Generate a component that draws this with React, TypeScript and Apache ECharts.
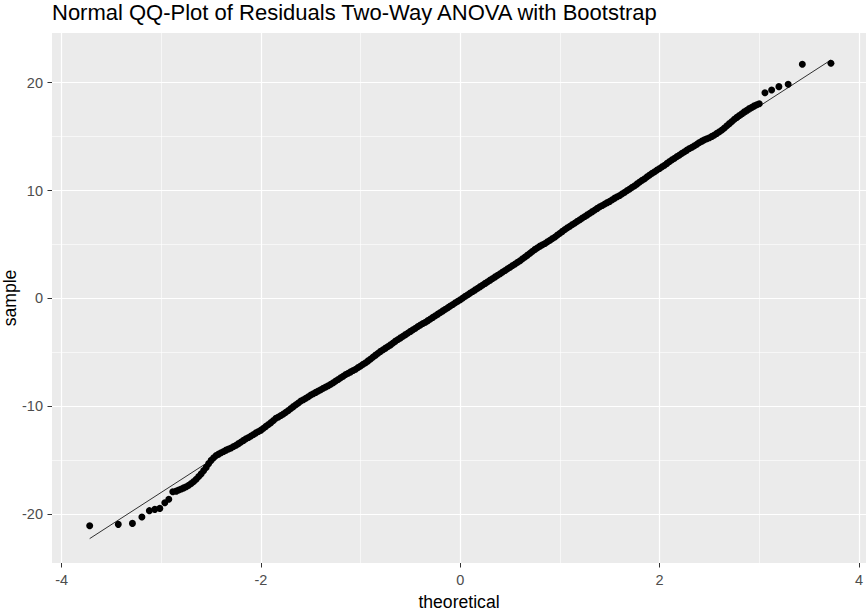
import React, { useEffect, useRef } from "react";
import * as echarts from "echarts";

const chartTitle = "Normal QQ-Plot of Residuals Two-Way ANOVA with Bootstrap";
const xAxisTitle = "theoretical";
const yAxisTitle = "sample";

const xMajorTicks = [-4, -2, 0, 2, 4];
const xMinorTicks = [-3, -1, 1, 3];
const yMajorTicks = [-20, -10, 0, 10, 20];
const yMinorTicks = [-15, -5, 5, 15];
const xRange = [-4.097, 4.071];
const yRange = [-24.51, 24.6];

const lowerTailX = [-3.719, -3.432, -3.29, -3.195, -3.12, -3.065, -3.015, -2.965, -2.925, -2.885];
const lowerTailY = [-21.06, -20.93, -20.84, -20.25, -19.66, -19.54, -19.45, -18.92, -18.61, -17.9];

const bodyX = [
  -2.85, -2.825, -2.8, -2.775, -2.75, -2.725, -2.7, -2.675, -2.65, -2.625,
  -2.6, -2.575, -2.55, -2.525, -2.5, -2.475, -2.45, -2.425, -2.4, -2.375,
  -2.35, -2.325, -2.3, -2.275, -2.25, -2.225, -2.2, -2.175, -2.15, -2.125,
  -2.1, -2.075, -2.05, -2.025, -2.0, -1.975, -1.95, -1.925, -1.9, -1.875,
  -1.85, -1.825, -1.8, -1.775, -1.75, -1.725, -1.7, -1.675, -1.65, -1.625,
  -1.6, -1.575, -1.55, -1.525, -1.5, -1.475, -1.45, -1.425, -1.4, -1.375,
  -1.35, -1.325, -1.3, -1.275, -1.25, -1.225, -1.2, -1.175, -1.15, -1.125,
  -1.1, -1.075, -1.05, -1.025, -1.0, -0.975, -0.95, -0.925, -0.9, -0.875,
  -0.85, -0.825, -0.8, -0.775, -0.75, -0.725, -0.7, -0.675, -0.65, -0.625,
  -0.6, -0.575, -0.55, -0.525, -0.5, -0.475, -0.45, -0.425, -0.4, -0.375,
  -0.35, -0.325, -0.3, -0.275, -0.25, -0.225, -0.2, -0.175, -0.15, -0.125,
  -0.1, -0.075, -0.05, -0.025, 0.0, 0.025, 0.05, 0.075, 0.1, 0.125,
  0.15, 0.175, 0.2, 0.225, 0.25, 0.275, 0.3, 0.325, 0.35, 0.375,
  0.4, 0.425, 0.45, 0.475, 0.5, 0.525, 0.55, 0.575, 0.6, 0.625,
  0.65, 0.675, 0.7, 0.725, 0.75, 0.775, 0.8, 0.825, 0.85, 0.875,
  0.9, 0.925, 0.95, 0.975, 1.0, 1.025, 1.05, 1.075, 1.1, 1.125,
  1.15, 1.175, 1.2, 1.225, 1.25, 1.275, 1.3, 1.325, 1.35, 1.375,
  1.4, 1.425, 1.45, 1.475, 1.5, 1.525, 1.55, 1.575, 1.6, 1.625,
  1.65, 1.675, 1.7, 1.725, 1.75, 1.775, 1.8, 1.825, 1.85, 1.875,
  1.9, 1.925, 1.95, 1.975, 2.0, 2.025, 2.05, 2.075, 2.1, 2.125,
  2.15, 2.175, 2.2, 2.225, 2.25, 2.275, 2.3, 2.325, 2.35, 2.375,
  2.4, 2.425, 2.45, 2.475, 2.5, 2.525, 2.55, 2.575, 2.6, 2.625,
  2.65, 2.675, 2.7, 2.725, 2.75, 2.775, 2.8, 2.825, 2.85, 2.875,
  2.9, 2.925, 2.95, 2.975, 3.0,
];
const bodyY = [
  -17.85, -17.75, -17.65, -17.55, -17.45, -17.3, -17.15, -16.95, -16.75, -16.5,
  -16.25, -15.95, -15.65, -15.3, -15.0, -14.75, -14.55, -14.42, -14.3, -14.18,
  -14.05, -13.95, -13.85, -13.72, -13.6, -13.45, -13.3, -13.15, -13.0, -12.88,
  -12.75, -12.6, -12.45, -12.32, -12.2, -12.02, -11.85, -11.68, -11.5, -11.3,
  -11.1, -10.98, -10.85, -10.7, -10.55, -10.38, -10.2, -10.02, -9.85, -9.68,
  -9.5, -9.38, -9.25, -9.1, -8.95, -8.82, -8.7, -8.58, -8.45, -8.32,
  -8.2, -8.08, -7.95, -7.8, -7.65, -7.5, -7.35, -7.2, -7.05, -6.92,
  -6.8, -6.68, -6.55, -6.4, -6.25, -6.1, -5.95, -5.78, -5.6, -5.42,
  -5.25, -5.08, -4.9, -4.75, -4.6, -4.45, -4.3, -4.12, -3.95, -3.8,
  -3.65, -3.5, -3.35, -3.2, -3.05, -2.9, -2.75, -2.6, -2.45, -2.32,
  -2.2, -2.05, -1.9, -1.75, -1.6, -1.45, -1.3, -1.15, -1.0, -0.85,
  -0.7, -0.55, -0.4, -0.26, -0.12, 0.04, 0.2, 0.35, 0.5, 0.65,
  0.8, 0.95, 1.1, 1.25, 1.4, 1.55, 1.7, 1.85, 2.0, 2.15,
  2.3, 2.45, 2.6, 2.75, 2.9, 3.05, 3.2, 3.35, 3.5, 3.68,
  3.85, 4.02, 4.2, 4.38, 4.55, 4.7, 4.85, 4.98, 5.1, 5.25,
  5.4, 5.55, 5.7, 5.88, 6.05, 6.22, 6.4, 6.55, 6.7, 6.85,
  7.0, 7.15, 7.3, 7.45, 7.6, 7.75, 7.9, 8.05, 8.2, 8.35,
  8.5, 8.62, 8.75, 8.88, 9.0, 9.15, 9.3, 9.42, 9.55, 9.7,
  9.85, 10.0, 10.15, 10.3, 10.45, 10.62, 10.8, 10.95, 11.1, 11.28,
  11.45, 11.6, 11.75, 11.9, 12.05, 12.2, 12.35, 12.52, 12.7, 12.85,
  13.0, 13.15, 13.3, 13.45, 13.6, 13.75, 13.9, 14.02, 14.15, 14.3,
  14.45, 14.58, 14.7, 14.8, 14.9, 15.02, 15.15, 15.3, 15.45, 15.62,
  15.8, 16.0, 16.2, 16.4, 16.6, 16.78, 16.95, 17.12, 17.3, 17.45,
  17.6, 17.72, 17.85, 17.95, 18.05,
];

const upperTailX = [3.057, 3.124, 3.197, 3.29, 3.432, 3.719];
const upperTailY = [19.07, 19.32, 19.63, 19.85, 21.7, 21.8];

const qqLineX = [-3.719, 3.719];
const qqLineY = [-22.25, 22.1];

const FONT = "'Liberation Sans', Arial, sans-serif";

export default function App() {
  const ref = useRef<HTMLDivElement>(null);

  useEffect(() => {
    if (!ref.current) return;
    const chart = echarts.init(ref.current, undefined, { renderer: "svg" });
    const tickLabel = { color: "#4D4D4D", fontSize: 14.5, fontFamily: FONT };
    const theoretical = [...lowerTailX, ...bodyX, ...upperTailX];
    const sample = [...lowerTailY, ...bodyY, ...upperTailY];
    const option = {
      animation: false,
      backgroundColor: "#FFFFFF",
      title: {
        text: chartTitle,
        left: 52,
        top: 1,
        padding: 0,
        textStyle: { fontSize: 22, fontWeight: "normal", color: "#000000", fontFamily: FONT },
      },
      grid: {
        left: 52,
        top: 33,
        right: 0,
        bottom: 50,
        show: true,
        backgroundColor: "#EBEBEB",
        borderWidth: 0,
        containLabel: false,
        outerBoundsMode: "none",
      },
      xAxis: [
        {
          type: "value",
          min: xRange[0],
          max: xRange[1],
          position: "bottom",
          axisLine: { show: false, onZero: false },
          axisTick: { show: true, customValues: xMajorTicks, length: 4.5, lineStyle: { color: "#333333", width: 1 } },
          axisLabel: { customValues: xMajorTicks, margin: 9, ...tickLabel },
          splitLine: { show: true, lineStyle: { color: "#FFFFFF", width: 1.2 } },
          name: xAxisTitle,
          nameLocation: "middle",
          nameGap: 30,
          nameMoveOverlap: false,
          nameTextStyle: { color: "#000000", fontSize: 17.6, fontFamily: FONT },
        },
        {
          type: "value",
          min: xRange[0],
          max: xRange[1],
          position: "bottom",
          axisLine: { show: false, onZero: false },
          axisTick: { show: false, customValues: xMinorTicks },
          axisLabel: { show: false, customValues: xMinorTicks },
          splitLine: { show: true, lineStyle: { color: "#FFFFFF", width: 0.6 } },
        },
      ],
      yAxis: [
        {
          type: "value",
          min: yRange[0],
          max: yRange[1],
          position: "left",
          axisLine: { show: false, onZero: false },
          axisTick: { show: true, customValues: yMajorTicks, length: 4.5, lineStyle: { color: "#333333", width: 1 } },
          axisLabel: { customValues: yMajorTicks, margin: 9, ...tickLabel },
          splitLine: { show: true, lineStyle: { color: "#FFFFFF", width: 1.2 } },
          name: yAxisTitle,
          nameLocation: "middle",
          nameGap: 33,
          nameRotate: 90,
          nameMoveOverlap: false,
          nameTextStyle: { color: "#000000", fontSize: 17.6, fontFamily: FONT },
        },
        {
          type: "value",
          min: yRange[0],
          max: yRange[1],
          position: "left",
          axisLine: { show: false, onZero: false },
          axisTick: { show: false, customValues: yMinorTicks },
          axisLabel: { show: false, customValues: yMinorTicks },
          splitLine: { show: true, lineStyle: { color: "#FFFFFF", width: 0.6 } },
        },
      ],
      series: [
        {
          type: "scatter",
          xAxisIndex: 0,
          yAxisIndex: 0,
          data: theoretical.map((x, i) => [x, sample[i]]),
          symbol: "circle",
          symbolSize: 7,
          itemStyle: { color: "#000000", opacity: 1 },
          silent: true,
          z: 3,
        },
        {
          type: "line",
          xAxisIndex: 0,
          yAxisIndex: 0,
          data: qqLineX.map((x, i) => [x, qqLineY[i]]),
          symbol: "none",
          lineStyle: { color: "#000000", width: 0.8 },
          silent: true,
          z: 4,
        },
      ],
    };
    chart.setOption(option as any);
    return () => chart.dispose();
  }, []);

  return (
    <div
      ref={ref}
      style={{ position: "absolute", left: 0, top: 0, width: 866, height: 613 }}
    />
  );
}
